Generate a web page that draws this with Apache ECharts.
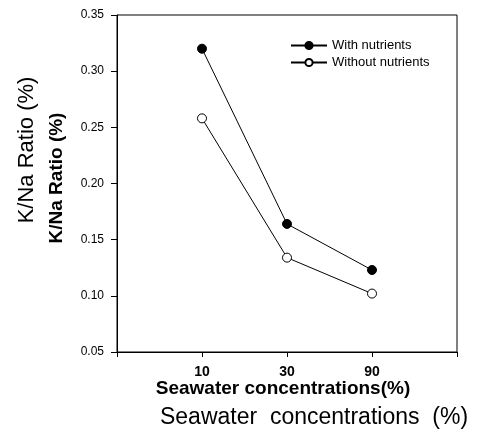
<!DOCTYPE html>
<html>
<head>
<meta charset="utf-8">
<script src="https://cdn.jsdelivr.net/npm/echarts@6/dist/echarts.min.js"></script>
<style>
html,body{margin:0;padding:0;background:#fff;}
#main{width:478px;height:431px;}
</style>
</head>
<body>
<div id="main"></div>
<script>
// 数据
var categories = ['10', '30', '90'];
var withNutrients = [0.320, 0.164, 0.123];
var withoutNutrients = [0.258, 0.134, 0.102];
var yTicks = [0.05, 0.10, 0.15, 0.20, 0.25, 0.30, 0.35];

var font = '"Liberation Sans", Arial, sans-serif';

function toPoints(arr){
    var out = [];
    for (var i = 0; i < arr.length; i++) {
        out.push([i + 1, arr[i]]);
    }
    return out;
}

var myChart = echarts.init(document.getElementById('main'));
var option = {
    backgroundColor: '#fff',
    animation: false,
    grid: {
        left: 117, top: 15, right: 21, bottom: 79,
        show: true, borderColor: '#000', borderWidth: 1
    },
    legend: {
        orient: 'vertical',
        left: 290, top: 39, padding: 0,
        itemWidth: 36, itemHeight: 9, itemGap: 4,
        textStyle: {fontFamily: font, fontSize: 13, color: '#000'},
        data: ['With nutrients', 'Without nutrients']
    },
    xAxis: {
        type: 'value',
        min: 0, max: 4, interval: 1,
        splitLine: {show: false},
        axisLine: {lineStyle: {color: '#000', width: 1}},
        axisTick: {show: true, length: 5, lineStyle: {color: '#000'}},
        axisLabel: {
            fontFamily: font, fontSize: 14, fontWeight: 'bold', color: '#000', margin: 13,
            showMinLabel: true, showMaxLabel: true,
            formatter: function(v){ return categories[v - 1] || ''; }
        }
    },
    yAxis: {
        type: 'value',
        min: yTicks[0], max: yTicks[yTicks.length - 1], interval: 0.05,
        splitLine: {show: false},
        axisLine: {show: true, lineStyle: {color: '#000', width: 1}},
        axisTick: {show: true, length: 6, lineStyle: {color: '#000'}},
        axisLabel: {
            fontFamily: font, fontSize: 12, color: '#000', margin: 13,
            formatter: function(v){ return v.toFixed(2); }
        }
    },
    graphic: [
        {type: 'text', x: 27, y: 150, rotation: Math.PI / 2,
         style: {text: 'K/Na Ratio (%)', font: '22px ' + font, fill: '#000', align: 'center', verticalAlign: 'middle'}},
        {type: 'text', x: 57, y: 178, rotation: Math.PI / 2,
         style: {text: 'K/Na Ratio (%)', font: 'bold 19px ' + font, fill: '#000', align: 'center', verticalAlign: 'middle'}},
        {type: 'text', x: 283, y: 389,
         style: {text: 'Seawater concentrations(%)', font: 'bold 19px ' + font, fill: '#000', align: 'center', verticalAlign: 'middle'}},
        {type: 'text', x: 314, y: 418,
         style: {text: 'Seawater  concentrations  (%)', font: '23px ' + font, fill: '#000', align: 'center', verticalAlign: 'middle'}}
    ],
    series: [
        {
            name: 'With nutrients',
            type: 'line',
            data: toPoints(withNutrients),
            symbol: 'circle', symbolSize: 9,
            lineStyle: {color: '#000', width: 1},
            itemStyle: {color: '#000', borderColor: '#000', borderWidth: 1}
        },
        {
            name: 'Without nutrients',
            type: 'line',
            data: toPoints(withoutNutrients),
            symbol: 'circle', symbolSize: 9,
            lineStyle: {color: '#000', width: 1},
            itemStyle: {color: '#fff', borderColor: '#000', borderWidth: 1}
        }
    ]
};
myChart.setOption(option);
</script>
</body>
</html>
